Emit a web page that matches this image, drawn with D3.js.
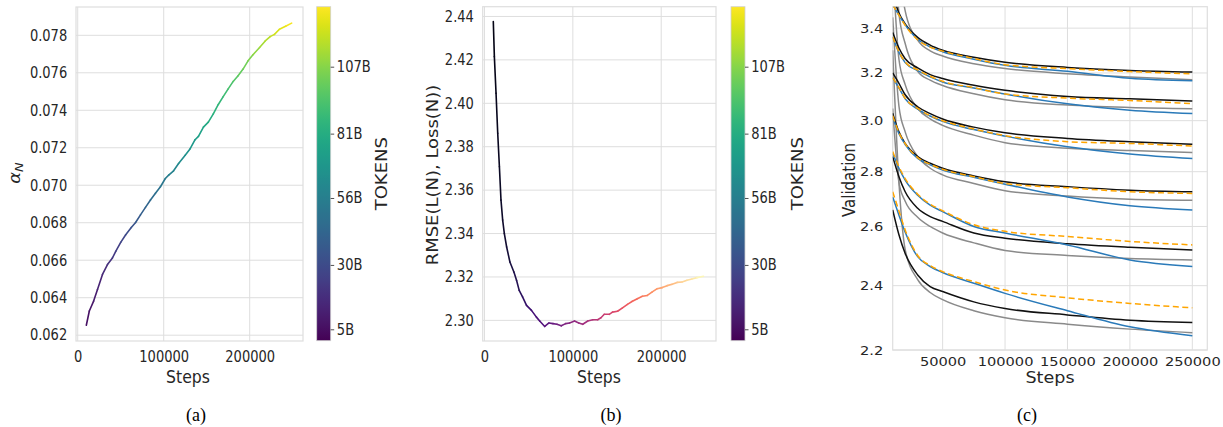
<!DOCTYPE html>
<html>
<head>
<meta charset="utf-8">
<script src="https://cdn.jsdelivr.net/npm/d3@7"></script>
<style>
  body { margin: 0; background: #fff; }
  svg { display: block; }
  text { font-family: "DejaVu Sans", sans-serif; fill: #262626; }
</style>
</head>
<body>
<svg id="chart" width="1223" height="427"></svg>
<script>
// ---------- data ----------
// (a) alpha_N against training steps
const stepsA = [10000, 13500, 18500, 23000, 28800, 34600, 40400, 44200, 50000, 55800, 62300, 67300, 73000, 78800,
  84600, 90400, 96200, 101900, 105800, 111500, 117300, 125000, 130800, 136500, 140400, 146200, 151900, 157700,
  163500, 169200, 175000, 180800, 186500, 192300, 198100, 203800, 211500, 218100, 223800, 228800, 234600, 242300, 248800];
const alphaN = [0.06253, 0.06329, 0.06382, 0.06444, 0.06524, 0.06577, 0.06612, 0.06647, 0.06695, 0.06736, 0.06775,
  0.06801, 0.06842, 0.06882, 0.06921, 0.06957, 0.06992, 0.07036, 0.07054, 0.07077, 0.07116, 0.0716, 0.07195, 0.07243,
  0.07261, 0.0731, 0.07337, 0.07381, 0.07431, 0.07473, 0.07514, 0.07554, 0.07584, 0.0762, 0.07664, 0.07696, 0.07735,
  0.0777, 0.07793, 0.07805, 0.07832, 0.0785, 0.07865];

// (b) RMSE(L(N), Loss(N)) against steps
const stepsB = [10000, 11200, 13100, 15000, 16900, 18700, 20600, 22500, 25100, 28800, 33300, 36300, 39300, 43100,
  47600, 53200, 58800, 62500, 68200, 73000, 77500, 82000, 86900, 91800, 96300, 101900, 106700, 111200, 116900,
  122500, 128100, 131800, 135600, 141200, 144900, 150600, 156200, 161800, 167400, 173000, 178700, 184300, 189900,
  195500, 201100, 206700, 212400, 218000, 223600, 229200, 234800, 240400, 247900];
const rmse = [2.4377, 2.4215, 2.4046, 2.3862, 2.3708, 2.3554, 2.3462, 2.34, 2.3338, 2.3269, 2.3223, 2.3185, 2.3138,
  2.3108, 2.3069, 2.3046, 2.3015, 2.2997, 2.2972, 2.2988, 2.2985, 2.2982, 2.2975, 2.2985, 2.2988, 2.2997, 2.2988,
  2.2982, 2.2997, 2.3003, 2.3003, 2.3012, 2.3028, 2.3028, 2.3038, 2.3042, 2.3058, 2.3074, 2.3088, 2.31, 2.3111,
  2.3115, 2.3131, 2.3146, 2.3151, 2.316, 2.3166, 2.3175, 2.3177, 2.3185, 2.3191, 2.3197, 2.3203];

// colour bars: tokens seen (billions)
const tokensPerStep = 524288;
const tokenTicks = [5, 30, 56, 81, 107];
const tokenLabels = ["5B", "30B", "56B", "81B", "107B"];
const tokenRange = [0.57, 130.3];

// (c) validation loss curves, six model sizes, sampled at stepsC
const stepsC = [10000, 15000, 20000, 30000, 40000, 50000, 75000, 100000, 150000, 200000, 250000];
const blackCurves = [
  [3.56, 3.47, 3.42, 3.358, 3.323, 3.30, 3.269, 3.247, 3.224, 3.211, 3.204],
  [3.38, 3.31, 3.262, 3.222, 3.193, 3.176, 3.147, 3.126, 3.10, 3.09, 3.081],
  [3.20, 3.155, 3.107, 3.057, 3.029, 3.007, 2.974, 2.951, 2.929, 2.916, 2.906],
  [3.03, 2.955, 2.909, 2.858, 2.832, 2.813, 2.784, 2.762, 2.744, 2.731, 2.725],
  [2.858, 2.781, 2.725, 2.665, 2.635, 2.618, 2.577, 2.559, 2.54, 2.528, 2.519],
  [2.659, 2.571, 2.507, 2.435, 2.397, 2.381, 2.348, 2.327, 2.307, 2.29, 2.283]
];
const grayCurves = [
  [4.2, 3.72, 3.48, 3.345, 3.297, 3.274, 3.24, 3.219, 3.197, 3.183, 3.171],
  [3.95, 3.47, 3.33, 3.207, 3.169, 3.146, 3.111, 3.086, 3.064, 3.054, 3.049],
  [3.7, 3.26, 3.15, 3.05, 3.007, 2.981, 2.942, 2.912, 2.89, 2.881, 2.874],
  [3.45, 3.06, 2.955, 2.858, 2.813, 2.788, 2.756, 2.729, 2.709, 2.698, 2.694],
  [3.05, 2.76, 2.69, 2.633, 2.60, 2.577, 2.543, 2.517, 2.50, 2.49, 2.485],
  [3.3, 2.76, 2.52, 2.42, 2.378, 2.355, 2.32, 2.298, 2.278, 2.263, 2.252]
];
const blueCurves = [
  [3.51, 3.46, 3.415, 3.349, 3.315, 3.293, 3.26, 3.233, 3.207, 3.177, 3.166],
  [3.36, 3.29, 3.245, 3.21, 3.183, 3.161, 3.136, 3.11, 3.069, 3.043, 3.029],
  [3.18, 3.135, 3.09, 3.047, 3.019, 2.997, 2.964, 2.938, 2.896, 2.868, 2.85],
  [3.014, 2.948, 2.905, 2.851, 2.826, 2.806, 2.779, 2.753, 2.706, 2.674, 2.659],
  [2.87, 2.813, 2.768, 2.712, 2.676, 2.653, 2.60, 2.577, 2.536, 2.485, 2.463],
  [2.706, 2.64, 2.58, 2.496, 2.463, 2.443, 2.408, 2.375, 2.32, 2.27, 2.243]
];
const orangeCurves = [
  [3.51, 3.46, 3.413, 3.347, 3.314, 3.296, 3.263, 3.236, 3.219, 3.206, 3.196],
  [3.36, 3.292, 3.248, 3.213, 3.186, 3.164, 3.137, 3.11, 3.093, 3.083, 3.07],
  [3.18, 3.137, 3.092, 3.05, 3.02, 3.0, 2.966, 2.94, 2.916, 2.909, 2.899],
  [3.02, 2.952, 2.908, 2.854, 2.828, 2.809, 2.781, 2.755, 2.74, 2.725, 2.719],
  [2.877, 2.819, 2.774, 2.716, 2.68, 2.656, 2.606, 2.583, 2.565, 2.548, 2.536],
  [2.725, 2.655, 2.588, 2.50, 2.466, 2.446, 2.413, 2.386, 2.361, 2.343, 2.329]
];

// ---------- drawing ----------
const svg = d3.select("#chart");
const gridColor = "#dedede";
const tokens = s => s * tokensPerStep / 1e9;
const cNorm = d3.scaleLinear().domain(tokenRange).range([0, 1]).clamp(true);

// text that is squeezed/stretched horizontally like the original figure
function label(x, y, str, size, sx, opts = {}) {
  const t = svg.append("text")
    .attr("transform", `translate(${x},${y}) scale(${sx},1)` + (opts.rotate ? " rotate(-90)" : ""))
    .attr("text-anchor", opts.anchor || "middle")
    .attr("font-size", size)
    .text(str);
  return t;
}

function frame(left, right, top, bottom) {
  svg.append("rect")
    .attr("x", left).attr("y", top)
    .attr("width", right - left).attr("height", bottom - top)
    .attr("fill", "none").attr("stroke", gridColor).attr("stroke-width", 1.2);
}

function grid(x, y, xt, yt) {
  const [l, r] = x.range(), [b, t] = y.range();
  const g = svg.append("g");
  g.selectAll("line.gx").data(xt).join("line")
    .attr("x1", d => x(d)).attr("x2", d => x(d)).attr("y1", t).attr("y2", b)
    .attr("stroke", gridColor).attr("stroke-width", 1);
  g.selectAll("line.gy").data(yt).join("line")
    .attr("x1", l).attr("x2", r).attr("y1", d => y(d)).attr("y2", d => y(d))
    .attr("stroke", gridColor).attr("stroke-width", 1);
}

function axes(x, y, xt, yt, xfmt, yfmt, size, sx, padX, padY) {
  const [, b] = [0, y.range()[0]];
  const l = x.range()[0];
  const gx = svg.append("g").attr("transform", `translate(0,${b})`)
    .call(d3.axisBottom(x).tickValues(xt).tickFormat(xfmt).tickSize(0).tickPadding(padX));
  const gy = svg.append("g").attr("transform", `translate(${l},0)`)
    .call(d3.axisLeft(y).tickValues(yt).tickFormat(yfmt).tickSize(0).tickPadding(padY / sx));
  [gx, gy].forEach(g => {
    g.select(".domain").remove();
    g.selectAll("text").attr("font-size", size).attr("font-family", null)
      .attr("fill", "#262626").attr("transform", `scale(${sx},1)`);
  });
}

function colorbar(x0, x1, top, bottom, id, sx, labelX) {
  const grad = svg.append("defs").append("linearGradient").attr("id", id)
    .attr("x1", 0).attr("x2", 0).attr("y1", 1).attr("y2", 0);
  d3.range(0, 1.0001, 0.02).forEach(t =>
    grad.append("stop").attr("offset", t).attr("stop-color", d3.interpolateViridis(t)));
  svg.append("rect").attr("x", x0).attr("y", top).attr("width", x1 - x0).attr("height", bottom - top)
    .attr("fill", `url(#${id})`).attr("stroke", "#d0d0d0").attr("stroke-width", 0.8);
  const cb = d3.scaleLinear().domain(tokenRange).range([bottom, top]);
  const g = svg.append("g").attr("transform", `translate(${x1},0)`)
    .call(d3.axisRight(cb).tickValues(tokenTicks).tickFormat((d, i) => tokenLabels[i])
      .tickSize(3.5).tickPadding(3.6));
  g.select(".domain").remove();
  g.selectAll(".tick line").attr("stroke", "#262626").attr("stroke-width", 0.8);
  g.selectAll("text").attr("font-size", 15).attr("font-family", null).attr("fill", "#262626")
    .attr("transform", `scale(${sx},1)`);
  label(labelX, (top + bottom) / 2, "TOKENS", 18, sx, { rotate: true });
}

function coloredLine(x, y, xs, ys, interp) {
  const g = svg.append("g");
  for (let i = 0; i < xs.length - 1; i++) {
    const mid = (xs[i] + xs[i + 1]) / 2;
    g.append("line")
      .attr("x1", x(xs[i])).attr("y1", y(ys[i]))
      .attr("x2", x(xs[i + 1])).attr("y2", y(ys[i + 1]))
      .attr("stroke", interp(cNorm(tokens(mid))))
      .attr("stroke-width", 1.6).attr("stroke-linecap", "round");
  }
}

const sxAB = 0.87;
const stepTicks = [0, 100000, 200000];

// ---- panel (a) ----
{
  const x = d3.scaleLinear().domain([-2000, 262000]).range([76, 303]);
  const y = d3.scaleLinear().domain([0.06169, 0.07951]).range([341, 7]);
  const yt = d3.range(0.062, 0.0781, 0.002);
  grid(x, y, stepTicks, yt);
  frame(76, 303, 7, 341);
  axes(x, y, stepTicks, yt, d3.format("d"), d3.format(".3f"), 15, sxAB, 10, 8.8);
  coloredLine(x, y, stepsA, alphaN, d3.interpolateViridis);
  label(188, 382.7, "Steps", 18, sxAB);
  const t = label(20, 173, "", 18, sxAB, { rotate: true });
  t.append("tspan").attr("font-style", "italic").text("α");
  t.append("tspan").attr("font-style", "italic").attr("font-size", 13).attr("dy", 4).text("N");
  colorbar(316.7, 330.7, 6.7, 340.7, "vir-a", sxAB, 386.7);
}

// ---- panel (b) ----
{
  const x = d3.scaleLinear().domain([-2000, 262000]).range([482.7, 716]);
  const y = d3.scaleLinear().domain([2.2905, 2.4445]).range([341, 6.7]);
  const yt = d3.range(2.30, 2.4401, 0.02);
  grid(x, y, stepTicks, yt);
  frame(482.7, 716, 6.7, 341);
  axes(x, y, stepTicks, yt, d3.format("d"), d3.format(".2f"), 15, sxAB, 10, 8.8);
  coloredLine(x, y, stepsB, rmse, d3.interpolateMagma);
  label(599, 382.7, "Steps", 18, sxAB);
  label(437.5, 175, "RMSE(L(N), Loss(N))", 18, sxAB, { rotate: true });
  colorbar(731, 745, 6.7, 340.7, "vir-b", sxAB, 802.7);
}

// ---- panel (c) ----
{
  const sxC = 1.17;
  const L = 892.7, R = 1207.3, T = 6.7, B = 350;
  const x = d3.scaleLinear().domain([10000, 262000]).range([L, R]);
  const y = d3.scaleLog().domain([2.2, 3.5]).range([B, T]);
  const xt = [50000, 100000, 150000, 200000, 250000];
  const yt = [2.2, 2.4, 2.6, 2.8, 3.0, 3.2, 3.4];
  grid(x, y, xt, yt);
  frame(L, R, T, B);
  axes(x, y, xt, yt, d3.format("d"), d3.format(".1f"), 12.5, sxC, 7.1, 9.4);

  svg.append("clipPath").attr("id", "clipc").append("rect")
    .attr("x", L).attr("y", T).attr("width", R - L).attr("height", B - T);
  const g = svg.append("g").attr("clip-path", "url(#clipc)");
  const line = d3.line().x((d, i) => x(stepsC[i])).y(d => y(d)).curve(d3.curveMonotoneX);
  const styles = [
    [grayCurves, "#8a8a8a", null],
    [blackCurves, "#111111", null],
    [blueCurves, "#2a7ab9", null],
    [orangeCurves, "#ffa500", "6,3.5"]
  ];
  styles.forEach(([set, color, dash]) => {
    set.forEach(vals => {
      g.append("path").attr("d", line(vals))
        .attr("fill", "none").attr("stroke", color).attr("stroke-width", 1.5)
        .attr("stroke-dasharray", dash);
    });
  });
  label(1050, 383.3, "Steps", 15, sxC);
  label(855, 180, "Validation", 15, sxC, { rotate: true });
}

// ---- captions ----
[["(a)", 196], ["(b)", 611], ["(c)", 1027]].forEach(([s, cx]) => {
  svg.append("text").attr("x", cx).attr("y", 421).attr("text-anchor", "middle")
    .attr("font-size", 18).style("font-family", '"Liberation Serif", "Times New Roman", serif')
    .style("fill", "#000").text(s);
});
</script>
</body>
</html>
